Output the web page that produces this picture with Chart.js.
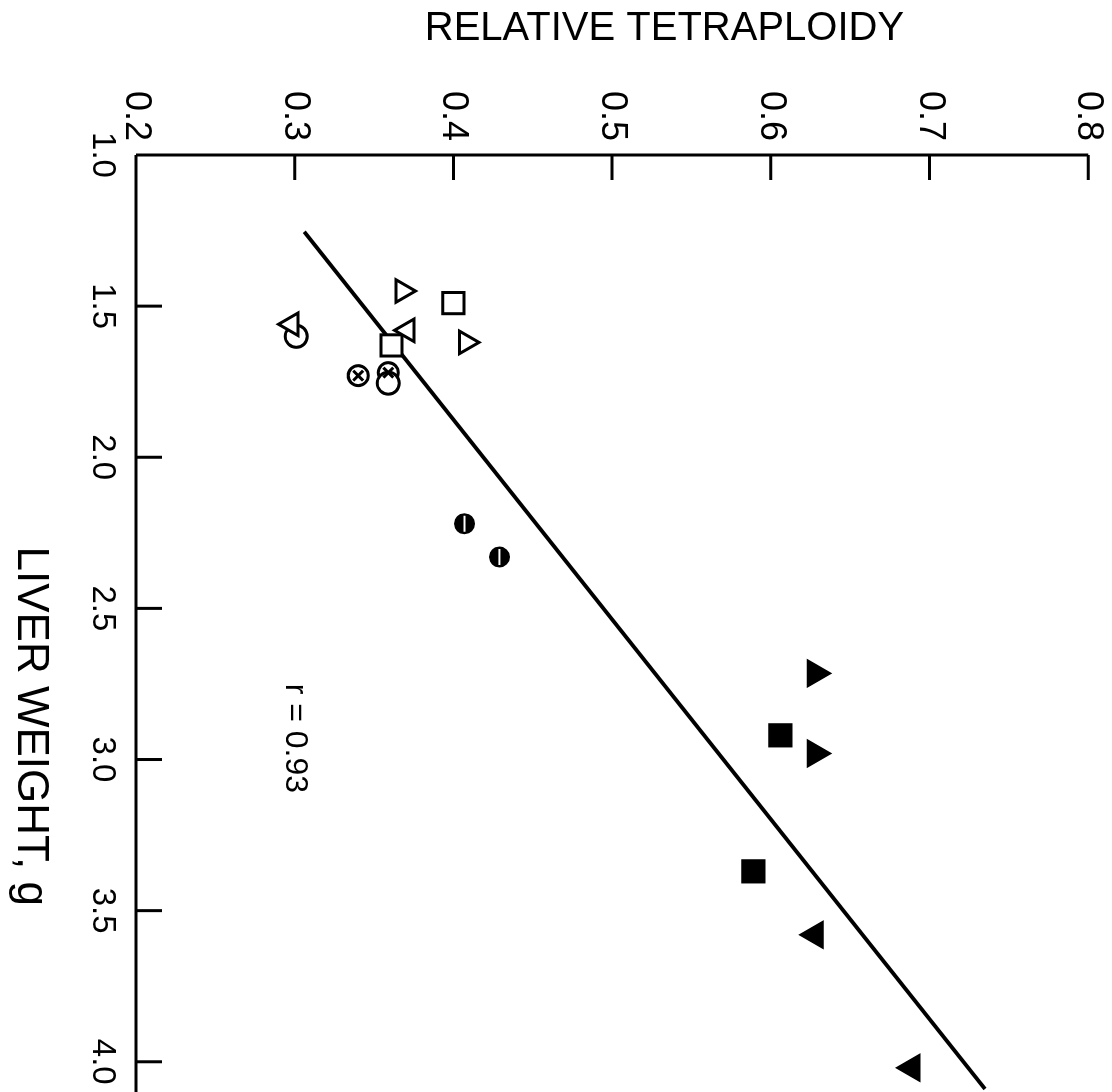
<!DOCTYPE html>
<html>
<head>
<meta charset="utf-8">
<script src="https://cdn.jsdelivr.net/npm/chart.js@4"></script>
<style>
  html, body { margin: 0; padding: 0; background: #fff; }
  #page { position: relative; width: 1112px; height: 1092px; overflow: hidden; }
  /* the plot is drawn upright and then turned a quarter turn clockwise */
  #turn { position: absolute; left: 0; top: 0; width: 1092px; height: 1112px;
          transform-origin: 0 0; transform: translate(1112px, 0) rotate(90deg); }
</style>
</head>
<body>
<div id="page"><div id="turn"><canvas id="chart" width="1092" height="1112"></canvas></div></div>
<script>
// liver weight (g) and relative tetraploidy, one pair of arrays per symbol
var openTriW = [1.45, 1.62];
var openTriT = [0.368, 0.408];
var openTriDownW = [1.58, 1.56];
var openTriDownT = [0.371, 0.298];
var openSqW = [1.49, 1.63];
var openSqT = [0.400, 0.361];
var openCircW = [1.60, 1.755];
var openCircT = [0.301, 0.359];
var crossCircW = [1.73, 1.72];
var crossCircT = [0.340, 0.359];
var halfCircW = [2.22, 2.33];
var halfCircT = [0.407, 0.429];
var fillTriW = [2.715, 2.98];
var fillTriT = [0.628, 0.628];
var fillSqW = [2.92, 3.37];
var fillSqT = [0.606, 0.589];
var fillTriDownW = [3.58, 4.02];
var fillTriDownT = [0.628, 0.689];

// regression line end points
var fitW = [1.254, 4.09];
var fitT = [0.306, 0.735];

var weightTicks = [1.0, 1.5, 2.0, 2.5, 3.0, 3.5, 4.0];
var tetraTicks = [0.2, 0.3, 0.4, 0.5, 0.6, 0.7, 0.8];

var xTitle = 'LIVER WEIGHT, g';
var yTitle = 'RELATIVE TETRAPLOIDY';
var rLabel = 'r = 0.93';

var FONT = 'Liberation Sans';

function pts(w, t) {
    var out = [];
    for (var i = 0; i < w.length; i++) {
        out.push({x: w[i], y: t[i]});
    }
    return out;
}

function marker(w, t, style, radius, fill, extra) {
    var d = {
        data: pts(w, t),
        pointStyle: style,
        pointRadius: radius,
        pointBackgroundColor: fill,
        pointBorderColor: '#000',
        pointBorderWidth: 3,
        showLine: false,
        order: 1
    };
    for (var k in extra) d[k] = extra[k];
    return d;
}

// axis lines, inward tick marks, axis titles and the r label
var axesPlugin = {
    id: 'axesPlugin',
    beforeDatasetsDraw: function (chart) {
        var ctx = chart.ctx;
        var xs = chart.scales.x, ys = chart.scales.y;
        var x0 = xs.getPixelForValue(1.0);
        var yb = ys.getPixelForValue(0.2);
        ctx.save();
        ctx.strokeStyle = '#000';
        ctx.lineWidth = 3;
        ctx.beginPath();
        ctx.moveTo(x0, yb);
        ctx.lineTo(x0, ys.getPixelForValue(0.8));
        ctx.moveTo(x0, yb);
        ctx.lineTo(chart.chartArea.right, yb);
        tetraTicks.slice(1).forEach(function (t) {
            var p = ys.getPixelForValue(t);
            ctx.moveTo(x0, p);
            ctx.lineTo(x0 + 25, p);
        });
        weightTicks.slice(1).forEach(function (w) {
            var p = xs.getPixelForValue(w);
            ctx.moveTo(p, yb);
            ctx.lineTo(p, yb - 26);
        });
        ctx.stroke();

        ctx.fillStyle = '#000';
        ctx.textAlign = 'center';
        ctx.textBaseline = 'middle';
        ctx.font = '32px "' + FONT + '"';
        ctx.fillText(rLabel, xs.getPixelForValue(2.93), ys.getPixelForValue(0.300));

        // weight title sits below the tick labels, tetraploidy title left of them
        ctx.font = '44px "' + FONT + '"';
        ctx.fillText(xTitle, xs.getPixelForValue(2.89), chart.height - 30);

        ctx.font = '40px "' + FONT + '"';
        ctx.translate(29, ys.getPixelForValue(0.533));
        ctx.rotate(-Math.PI / 2);
        ctx.fillText(yTitle, 0, 0);
        ctx.restore();
    }
};

var datasets = [
    {
        type: 'line',
        data: pts(fitW, fitT),
        borderColor: '#000',
        borderWidth: 4,
        pointRadius: 0,
        fill: false,
        order: 3
    },
    marker(openTriW, openTriT, 'triangle', 13, '#fff'),
    marker(openTriDownW, openTriDownT, 'triangle', 13, '#fff', {pointRotation: 180}),
    marker(openSqW, openSqT, 'rect', 15, '#fff'),
    marker(openCircW, openCircT, 'circle', 11, '#fff'),
    marker(crossCircW, crossCircT, 'circle', 10, '#fff'),
    marker(crossCircW, crossCircT, 'crossRot', 7, '#fff', {order: 0}),
    marker(halfCircW, halfCircT, 'circle', 9, '#000'),
    marker(halfCircW, halfCircT, 'line', 8, '#fff', {pointBorderColor: '#fff', pointBorderWidth: 2, order: 0}),
    marker(fillTriW, fillTriT, 'triangle', 14, '#000'),
    marker(fillSqW, fillSqT, 'rect', 15, '#000'),
    marker(fillTriDownW, fillTriDownT, 'triangle', 14, '#000', {pointRotation: 180})
];

new Chart(document.getElementById('chart'), {
    type: 'scatter',
    data: {datasets: datasets},
    options: {
        responsive: false,
        animation: false,
        events: [],
        layout: {padding: 0, autoPadding: false},
        plugins: {legend: {display: false}, tooltip: {enabled: false}},
        scales: {
            x: {
                type: 'linear',
                position: 'bottom',
                min: 1.0,
                max: 4.1,
                afterBuildTicks: function (s) {
                    s.ticks = weightTicks.map(function (v) { return {value: v}; });
                },
                afterFit: function (s) {
                    s.height = 136;
                    s.paddingLeft = 0;
                    s.paddingRight = 0;
                },
                grid: {display: false, drawTicks: false},
                border: {display: false},
                ticks: {
                    color: '#000',
                    font: {family: FONT, size: 33},
                    padding: 14,
                    minRotation: 0,
                    maxRotation: 0,
                    autoSkip: false,
                    callback: function (v) { return Number(v).toFixed(1); }
                }
            },
            y: {
                type: 'linear',
                position: 'left',
                min: 0.2,
                max: 0.815,
                afterBuildTicks: function (s) {
                    s.ticks = tetraTicks.map(function (v) { return {value: v}; });
                },
                afterFit: function (s) {
                    s.width = 155;
                    s.paddingTop = 0;
                    s.paddingBottom = 0;
                },
                grid: {display: false, drawTicks: false},
                border: {display: false},
                ticks: {
                    color: '#000',
                    font: {family: FONT, size: 36},
                    padding: 14,
                    autoSkip: false,
                    callback: function (v) { return Number(v).toFixed(1); }
                }
            }
        }
    },
    plugins: [axesPlugin]
});
</script>
</body>
</html>
